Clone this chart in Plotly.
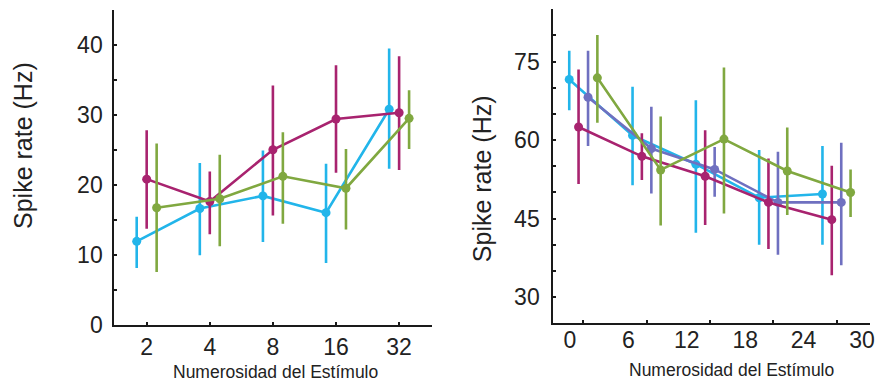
import plotly.graph_objects as go

# ---------------- data ----------------
# Left panel: stimulus numerosity (log-spaced categories)
left_ticklabels = ["2", "4", "8", "16", "32"]
left_idx = [1, 2, 3, 4, 5]

left_cyan_y = [11.9, 16.6, 18.4, 16.0, 30.8]
left_cyan_lo = [8.1, 9.9, 11.8, 8.8, 22.3]
left_cyan_hi = [15.4, 23.1, 24.9, 23.0, 39.5]

left_mag_y = [20.8, 17.6, 25.0, 29.4, 30.3]
left_mag_lo = [13.7, 12.9, 15.6, 21.7, 22.1]
left_mag_hi = [27.8, 21.9, 34.2, 37.1, 38.4]

left_grn_y = [16.7, 18.0, 21.2, 19.5, 29.5]
left_grn_lo = [7.5, 11.2, 14.4, 13.6, 25.1]
left_grn_hi = [25.9, 24.3, 27.5, 25.1, 33.5]

# Right panel: five stimulus categories, axis labelled 0..30
right_idx = [1, 2, 3, 4, 5]
right_ticklabels = [0, 6, 12, 18, 24, 30]

right_cyan_y = [71.6, 60.9, 55.4, 49.0, 49.7]
right_cyan_lo = [65.7, 51.4, 42.3, 40.0, 40.0]
right_cyan_hi = [77.1, 70.2, 67.6, 58.1, 58.9]

right_mag_y = [62.5, 56.9, 53.1, 48.1, 44.8]
right_mag_lo = [51.6, 52.4, 43.8, 39.2, 34.2]
right_mag_hi = [73.5, 61.3, 61.9, 56.5, 55.1]

right_pur_y = [68.2, 58.4, 54.4, 48.1, 48.1]
right_pur_lo = [58.9, 49.8, 49.2, 38.1, 36.1]
right_pur_hi = [77.1, 66.4, 58.7, 57.8, 59.5]

right_grn_y = [71.9, 54.3, 60.2, 54.1, 50.0]
right_grn_lo = [63.3, 43.7, 46.0, 45.7, 45.3]
right_grn_hi = [80.1, 64.5, 73.9, 62.4, 54.4]

# ---------------- style ----------------
CYAN = "#22B5EA"
MAG = "#A8236F"
PUR = "#6F70C0"
GRN = "#80A840"
AXIS = "#1a1a1a"
TXT = "#222222"
FONT = "Liberation Sans, Arial, sans-serif"

W, H = 885, 384

fig = go.Figure()


def add_series(xa, ya, idx, offset, y, lo, hi, color):
    fig.add_trace(go.Scatter(
        x=[i + offset for i in idx], y=y, xaxis=xa, yaxis=ya,
        mode="lines+markers",
        line=dict(color=color, width=2.6),
        marker=dict(size=9, color=color),
        error_y=dict(type="data", symmetric=False,
                     array=[h - v for h, v in zip(hi, y)],
                     arrayminus=[v - l for v, l in zip(y, lo)],
                     color=color, thickness=2.6, width=0),
        showlegend=False, hoverinfo="skip"))


# left panel
add_series("x", "y", left_idx, -0.158, left_cyan_y, left_cyan_lo, left_cyan_hi, CYAN)
add_series("x", "y", left_idx, 0.0, left_mag_y, left_mag_lo, left_mag_hi, MAG)
add_series("x", "y", left_idx, 0.158, left_grn_y, left_grn_lo, left_grn_hi, GRN)

# right panel
add_series("x2", "y2", right_idx, -0.222, right_cyan_y, right_cyan_lo, right_cyan_hi, CYAN)
add_series("x2", "y2", right_idx, 0.075, right_pur_y, right_pur_lo, right_pur_hi, PUR)
add_series("x2", "y2", right_idx, -0.075, right_mag_y, right_mag_lo, right_mag_hi, MAG)
add_series("x2", "y2", right_idx, 0.222, right_grn_y, right_grn_lo, right_grn_hi, GRN)

# empty trace to carry the label axis of the right panel
fig.add_trace(go.Scatter(x=[None], y=[None], xaxis="x3", yaxis="y2",
                         showlegend=False, hoverinfo="skip"))


def px_x(p):
    return p / W


def px_y(p):
    return 1 - p / H


tickfont = dict(family=FONT, size=23, color=TXT)

common_axis = dict(showline=True, linecolor=AXIS, linewidth=2, showgrid=False,
                   zeroline=False, ticks="inside", ticklen=3, tickwidth=2,
                   tickcolor=AXIS, tickfont=tickfont, fixedrange=True,
                   automargin=False)

fig.update_layout(
    template="none",
    width=W, height=H,
    margin=dict(l=0, r=0, t=0, b=0),
    paper_bgcolor="white", plot_bgcolor="white",
    font=dict(family=FONT, color=TXT),
    xaxis=dict(common_axis, domain=[px_x(114.3), px_x(432)], range=[0.487, 5.521],
               tickvals=left_idx, ticktext=left_ticklabels, anchor="y",
               ticklabelstandoff=1),
    yaxis=dict(common_axis, domain=[px_y(324.5), px_y(10)], range=[0, 45],
               tick0=0, dtick=10, anchor="x", ticklabelstandoff=5,
               minor=dict(dtick=5, ticks="inside", ticklen=3, tickwidth=2, tickcolor=AXIS)),
    xaxis2=dict(common_axis, domain=[px_x(553.3), px_x(870)], range=[0.526, 5.529],
                tickvals=right_idx, showticklabels=False, anchor="y2"),
    xaxis3=dict(overlaying="x2", anchor="y2", range=[-1.716, 30.82], showline=False,
                showgrid=False, zeroline=False, ticks="", tickvals=right_ticklabels,
                tickfont=tickfont, fixedrange=True, ticklabelstandoff=1,
                automargin=False),
    yaxis2=dict(common_axis, domain=[px_y(323.3), px_y(9.3)], range=[25, 85],
                tick0=0, dtick=15, anchor="x2", ticklabelstandoff=7,
                minor=dict(dtick=5, ticks="inside", ticklen=3, tickwidth=2, tickcolor=AXIS)),
)

ytitle = dict(family=FONT, size=25, color=TXT)
xtitle = dict(family=FONT, size=17.5, color=TXT)
fig.add_annotation(text="Spike rate (Hz)", xref="paper", yref="paper",
                   x=px_x(23), y=px_y(146), textangle=-90, showarrow=False,
                   font=ytitle, xanchor="center", yanchor="middle")
fig.add_annotation(text="Spike rate (Hz)", xref="paper", yref="paper",
                   x=px_x(481.7), y=px_y(178.5), textangle=-90, showarrow=False,
                   font=ytitle, xanchor="center", yanchor="middle")
fig.add_annotation(text="Numerosidad del Estímulo", xref="paper", yref="paper",
                   x=px_x(275.8), y=px_y(371.7), showarrow=False,
                   font=xtitle, xanchor="center", yanchor="middle")
fig.add_annotation(text="Numerosidad del Estímulo", xref="paper", yref="paper",
                   x=px_x(731), y=px_y(370), showarrow=False,
                   font=xtitle, xanchor="center", yanchor="middle")

fig.write_html("out.html",
               config={"displayModeBar": False, "staticPlot": True},
               post_script="document.body.style.margin='0';"
                           "document.body.style.overflow='hidden';")
